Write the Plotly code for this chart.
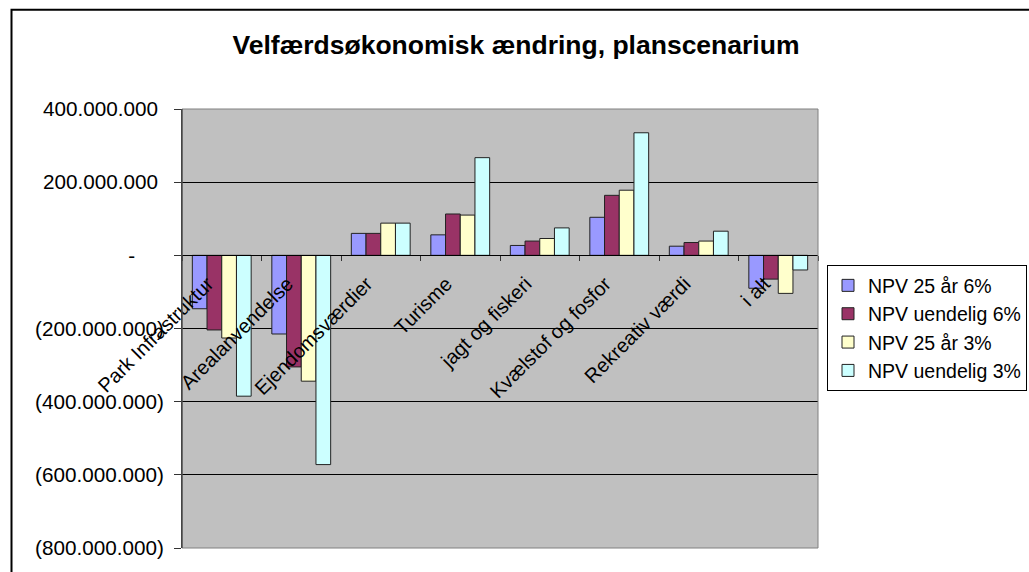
import plotly.graph_objects as go

categories = ["Park Infrastruktur", "Arealanvendelse", "Ejendomsværdier", "Turisme",
              "jagt og fiskeri", "Kvælstof og fosfor", "Rekreativ værdi", "i alt"]

npv25_6 = [-146e6, -215e6, 60e6, 56e6, 27e6, 104e6, 25e6, -90e6]
npvinf_6 = [-204e6, -305e6, 60e6, 113e6, 39e6, 164e6, 35e6, -65e6]
npv25_3 = [-226e6, -344e6, 88e6, 110e6, 46e6, 178e6, 39e6, -104e6]
npvinf_3 = [-385e6, -572e6, 88e6, 267e6, 75e6, 335e6, 66e6, -40e6]

series_names = ["NPV 25 år 6%", "NPV uendelig 6%", "NPV 25 år 3%", "NPV uendelig 3%"]
series_colors = ["#9999FF", "#993366", "#FFFFCC", "#CCFFFF"]

tick_vals = [400e6, 200e6, 0, -200e6, -400e6, -600e6, -800e6]
tick_text = ["400.000.000\u00a0", "200.000.000\u00a0", "-" + "\u00a0" * 5,
             "(200.000.000)", "(400.000.000)", "(600.000.000)", "(800.000.000)"]

FONT = "Liberation Sans, Arial, sans-serif"

fig = go.Figure()
for name, vals, col in zip(series_names, [npv25_6, npvinf_6, npv25_3, npvinf_3], series_colors):
    fig.add_trace(go.Bar(x=categories, y=vals, name=name,
                         marker=dict(color=col, line=dict(color="#222222", width=1))))

W, H = 1029, 572
L, R, T, B = 182, 818, 108.7, 548
pw, ph = R - L, B - T

def px(x):
    return (x - L) / pw

def py(y):
    return (B - y) / ph

fig.update_layout(
    width=W, height=H,
    margin=dict(l=L, r=W - R, t=T, b=H - B, pad=0, autoexpand=False),
    paper_bgcolor="white", plot_bgcolor="#C0C0C0",
    barmode="group", bargap=0.26, bargroupgap=0,
    font=dict(family=FONT, size=20, color="black"),
    title=dict(text="<b>Velfærdsøkonomisk ændring, planscenarium</b>",
               x=516 / W, xref="container", xanchor="center",
               y=1 - 45 / H, yref="container", yanchor="middle",
               font=dict(family=FONT, size=26.5, color="black")),
    legend=dict(x=px(827), y=py(265), xanchor="left", yanchor="top",
                bgcolor="white", bordercolor="black", borderwidth=1,
                font=dict(family=FONT, size=19.5, color="black"),
                tracegroupgap=0, itemwidth=30),
    showlegend=True,
)

fig.update_yaxes(range=[-800e6, 400e6], tickvals=tick_vals, ticktext=tick_text,
                 showgrid=True, gridcolor="black", gridwidth=1,
                 showline=True, linecolor="#333333", linewidth=1,
                 ticks="outside", ticklen=7, tickcolor="#333333",
                 ticklabelstandoff=6, automargin=False,
                 zeroline=False, tickfont=dict(size=20.7))

fig.update_xaxes(type="category", anchor="free", position=800 / 1200,
                 showline=True, linecolor="black", linewidth=1,
                 ticks="outside", tickson="boundaries", ticklen=5, tickcolor="#333333",
                 tickangle=-45, showgrid=False, automargin=False,
                 ticklabelshift=-14, ticklabelstandoff=8,
                 tickfont=dict(size=20))

# plot area border (gray) and outer chart frame
fig.add_shape(type="rect", xref="paper", yref="paper", x0=0, x1=1, y0=0, y1=1,
              line=dict(color="#808080", width=1), layer="above")
fig.add_shape(type="line", xref="paper", yref="paper", x0=0, x1=0, y0=0, y1=1,
              line=dict(color="#333333", width=1), layer="above")
fig.add_shape(type="rect", xref="paper", yref="paper",
              x0=px(11.5), x1=px(1100), y0=py(640), y1=py(9.5),
              line=dict(color="black", width=2), layer="above")

fig.write_html("out.html", config={"displayModeBar": False},
               post_script="document.body.style.margin='0px';")
